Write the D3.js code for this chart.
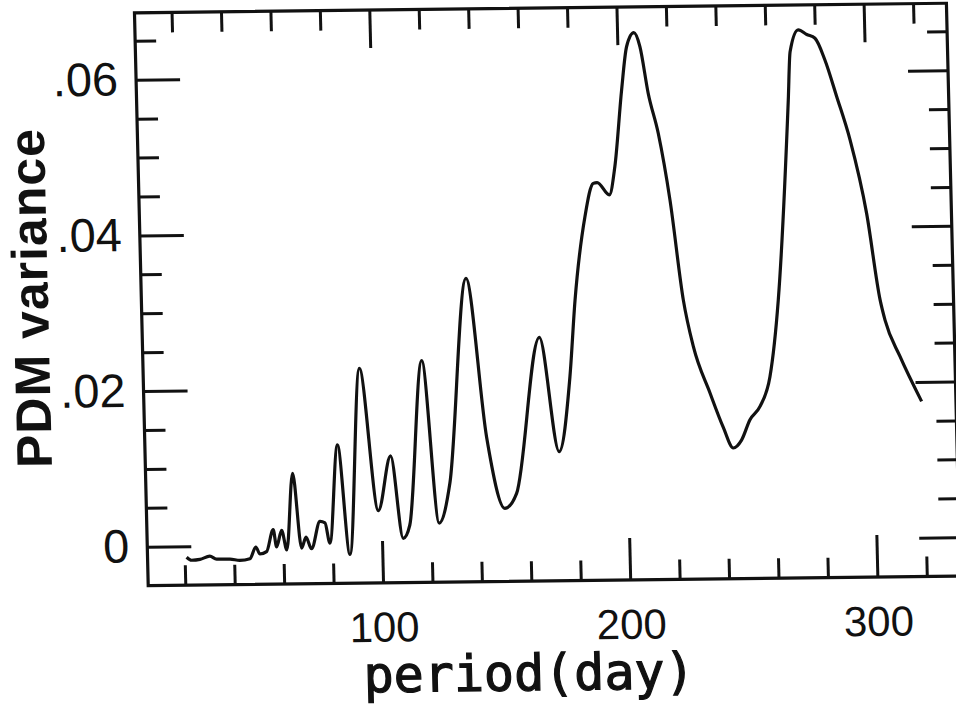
<!DOCTYPE html>
<html>
<head>
<meta charset="utf-8">
<script src="https://cdn.jsdelivr.net/npm/d3@7"></script>
<style>
  html, body { margin: 0; padding: 0; background: #fff; }
  svg { display: block; }
</style>
</head>
<body>
<div id="chart"></div>
<script>
// PDM variance against trial period
const periods = [20.8, 22.8, 26.2, 30.2, 32.9, 38.3, 42.3, 46.4, 48.9, 50.5,
	53.2, 56.1, 57.3, 59.5, 61.4, 64.5, 67.4, 69.3, 71.4, 75.1,
	77.1, 78.9, 82.9, 86.9, 92.5, 98.8, 104.3, 108.6, 111.4, 117.8,
	123.3, 128.0, 136.5, 143.3, 150.0, 154.9, 165.6, 172.5, 177.6, 180.4,
	185.2, 188.9, 190.5, 195.3, 197.8, 201.3, 203.7, 206.8, 209.1, 212.0,
	215.7, 219.8, 224.2, 227.8, 234.1, 239.1, 243.0, 246.4, 250.0, 254.2,
	258.5, 262.6, 268.6, 269.8, 273.3, 276.7, 280.0, 283.8, 288.2, 293.2,
	299.2, 303.8, 305.6, 311.3, 319.6];
const variance = [-0.0014, -0.0018, -0.0017, -0.0013, -0.0017, -0.0017, -0.0019, -0.0017, -0.0002, -0.0011,
	-0.0008, 0.0020, -0.0002, 0.0019, -0.0006, 0.0092, -0.0004, 0.0010, -0.0005, 0.0030,
	0.0028, 0.0002, 0.0128, -0.0013, 0.0226, 0.0043, 0.0113, 0.0007, 0.0024, 0.0235,
	0.0026, 0.0077, 0.0340, 0.0136, 0.0044, 0.0063, 0.0263, 0.0116, 0.0212, 0.0310,
	0.0417, 0.0460, 0.0461, 0.0445, 0.0481, 0.0580, 0.0635, 0.0653, 0.0635, 0.0575,
	0.0523, 0.0437, 0.0309, 0.0249, 0.0189, 0.0145, 0.0118, 0.0128, 0.0154, 0.0171,
	0.0209, 0.0307, 0.0564, 0.0626, 0.0654, 0.0648, 0.0643, 0.0615, 0.0568, 0.0512,
	0.0417, 0.0306, 0.0280, 0.0233, 0.0175];

// Tick values and labels
const xMajor = [100, 200, 300];
const xMinor = [20, 40, 60, 80, 120, 140, 160, 180, 220, 240, 260, 280, 320];
const yMajor = [0, 0.02, 0.04, 0.06];
const yMinor = [0.005, 0.01, 0.015, 0.025, 0.03, 0.035, 0.045, 0.05, 0.055, 0.065];
const yTickLabels = ["0", ".02", ".04", ".06"];

const W = 956, H = 704;

const svg = d3.select("#chart").append("svg")
	.attr("width", W)
	.attr("height", H)
	.attr("viewBox", `0 0 ${W} ${H}`);

// the scan is slightly skewed, so the whole plot sits in a sheared group
const g = svg.append("g")
	.attr("transform", "matrix(1,-0.0118,0.024,1,-7.08,6.44)");

// Scales
const x = d3.scaleLinear().domain([0, 300]).range([129, 870.5]);
const y = d3.scaleLinear().domain([0, 0.06]).range([542, 75]);

const frameLeft = x(5), frameRight = x(333.5);
const frameTop = y(0.0686), frameBottom = y(-0.005);

// Ticks (inward, minor and major)
function ticks(axis, values, size, tx, ty) {
	const a = g.append("g")
		.attr("transform", `translate(${tx},${ty})`)
		.call(axis.tickValues(values).tickSize(-size).tickFormat(""));
	a.select(".domain").remove();
	a.selectAll("line").attr("stroke", "#111").attr("stroke-width", 3);
	return a;
}

ticks(d3.axisBottom(x), xMinor, 20, 0, frameBottom);
ticks(d3.axisTop(x), xMinor, 20, 0, frameTop);
ticks(d3.axisTop(x), xMajor, 38, 0, frameTop);
ticks(d3.axisLeft(y), yMinor, 21, frameLeft, 0);
ticks(d3.axisRight(y), yMinor, 20, frameRight, 0);
ticks(d3.axisRight(y), yMajor, 40, frameRight, 0);

// Bottom axis with labels
const xAxis = g.append("g")
	.attr("transform", `translate(0,${frameBottom})`)
	.call(d3.axisBottom(x).tickValues(xMajor).tickSize(-42).tickPadding(29));
xAxis.select(".domain").remove();
xAxis.selectAll("line").attr("stroke", "#111").attr("stroke-width", 3);
xAxis.selectAll("text")
	.attr("fill", "#111")
	.style("font-family", "'Liberation Sans', Arial, sans-serif")
	.style("font-size", "42px");

// Left axis with labels
const yAxis = g.append("g")
	.attr("transform", `translate(${frameLeft},0)`)
	.call(d3.axisLeft(y).tickValues(yMajor).tickSize(-44).tickPadding(18)
		.tickFormat((d, i) => yTickLabels[i]));
yAxis.select(".domain").remove();
yAxis.selectAll("line").attr("stroke", "#111").attr("stroke-width", 3);
yAxis.selectAll("text")
	.attr("fill", "#111")
	.style("font-family", "'Liberation Sans', Arial, sans-serif")
	.style("font-size", "47px");

// Frame
g.append("rect")
	.attr("x", frameLeft)
	.attr("y", frameTop)
	.attr("width", frameRight - frameLeft)
	.attr("height", frameBottom - frameTop)
	.attr("fill", "none")
	.attr("stroke", "#111")
	.attr("stroke-width", 3.2);

// Curve
const line = d3.line()
	.x((d, i) => x(periods[i]))
	.y((d) => y(d))
	.curve(d3.curveMonotoneX);

g.append("path")
	.datum(variance)
	.attr("d", line)
	.attr("fill", "none")
	.attr("stroke", "#111")
	.attr("stroke-width", 3.2)
	.attr("stroke-linejoin", "round");

// Axis titles
g.append("text")
	.attr("x", 520)
	.attr("y", 690)
	.attr("text-anchor", "middle")
	.attr("fill", "#111")
	.attr("stroke", "#111")
	.attr("stroke-width", 1.2)
	.style("font-family", "'DejaVu Sans Mono', monospace")
	.style("font-size", "50px")
	.text("period(day)");

g.append("text")
	.attr("transform", "translate(48,292) rotate(-90)")
	.attr("text-anchor", "middle")
	.attr("fill", "#111")
	.style("font-family", "'Liberation Sans', Arial, sans-serif")
	.style("font-weight", "bold")
	.style("font-size", "50px")
	.style("letter-spacing", "1px")
	.text("PDM variance");
</script>
</body>
</html>
